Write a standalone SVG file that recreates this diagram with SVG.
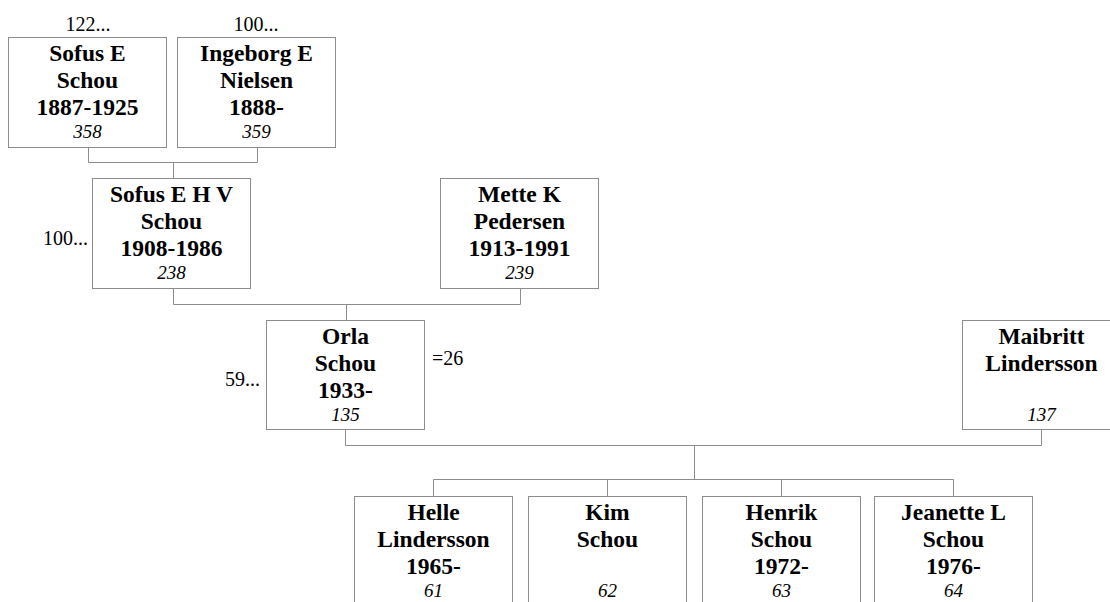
<svg xmlns="http://www.w3.org/2000/svg" width="1110" height="602" viewBox="0 0 1110 602">
<style>
.box{fill:#fff;stroke:#8c8c8c;stroke-width:1}
.ln{fill:none;stroke:#8c8c8c;stroke-width:1}
.n{font-family:"Liberation Serif","Times New Roman",serif;font-weight:bold;font-size:23.5px;text-anchor:middle;fill:#000}
.i{font-family:"Liberation Serif","Times New Roman",serif;font-style:italic;font-size:19px;text-anchor:middle;fill:#000}
.t{font-family:"Liberation Serif","Times New Roman",serif;font-size:20px;fill:#000}
</style>
<rect width="1110" height="602" fill="#fff"/>
<g id="connectors">
<path class="ln" d="M88.5 147V162.5H257.5V147M173.5 162.5V178"/>
<path class="ln" d="M173.5 288V304.5H520.5V288M346.5 304.5V320"/>
<path class="ln" d="M345.5 430V445.5H1041.5V430M694.5 445.5V479.5"/>
<path class="ln" d="M433.5 496V479.5H953.5V496M607.5 479.5V496M781.5 479.5V496"/>
</g>
<g id="n358">
<rect class="box" x="8.5" y="37.5" width="158" height="110"/>
<text class="t" x="88" y="31" text-anchor="middle">122...</text>
<text class="n" x="87.5" y="61">Sofus E</text>
<text class="n" x="87.5" y="88">Schou</text>
<text class="n" x="87.5" y="115">1887-1925</text>
<text class="i" x="87.5" y="138">358</text>
</g>
<g id="n359">
<rect class="box" x="177.5" y="37.5" width="158" height="110"/>
<text class="t" x="256" y="31" text-anchor="middle">100...</text>
<text class="n" x="256.5" y="61">Ingeborg E</text>
<text class="n" x="256.5" y="88">Nielsen</text>
<text class="n" x="256.5" y="115">1888-</text>
<text class="i" x="256.5" y="138">359</text>
</g>
<g id="n238">
<rect class="box" x="92.5" y="178.5" width="158" height="110"/>
<text class="t" x="88" y="245" text-anchor="end">100...</text>
<text class="n" x="171.5" y="202">Sofus E H V</text>
<text class="n" x="171.5" y="229">Schou</text>
<text class="n" x="171.5" y="256">1908-1986</text>
<text class="i" x="171.5" y="279">238</text>
</g>
<g id="n239">
<rect class="box" x="440.5" y="178.5" width="158" height="110"/>
<text class="n" x="519.5" y="202">Mette K</text>
<text class="n" x="519.5" y="229">Pedersen</text>
<text class="n" x="519.5" y="256">1913-1991</text>
<text class="i" x="519.5" y="279">239</text>
</g>
<g id="n135">
<rect class="box" x="266.5" y="320.5" width="158" height="109"/>
<text class="t" x="260" y="386" text-anchor="end">59...</text>
<text class="t" x="432" y="365">=26</text>
<text class="n" x="345.5" y="344">Orla</text>
<text class="n" x="345.5" y="371">Schou</text>
<text class="n" x="345.5" y="398">1933-</text>
<text class="i" x="345.5" y="421">135</text>
</g>
<g id="n137">
<rect class="box" x="962.5" y="320.5" width="158" height="109"/>
<text class="n" x="1041.5" y="344">Maibritt</text>
<text class="n" x="1041.5" y="371">Lindersson</text>
<text class="i" x="1041.5" y="421">137</text>
</g>
<g id="n61">
<rect class="box" x="354.5" y="496.5" width="158" height="110"/>
<text class="n" x="433.5" y="520">Helle</text>
<text class="n" x="433.5" y="547">Lindersson</text>
<text class="n" x="433.5" y="574">1965-</text>
<text class="i" x="433.5" y="597">61</text>
</g>
<g id="n62">
<rect class="box" x="528.5" y="496.5" width="158" height="110"/>
<text class="n" x="607.5" y="520">Kim</text>
<text class="n" x="607.5" y="547">Schou</text>
<text class="i" x="607.5" y="597">62</text>
</g>
<g id="n63">
<rect class="box" x="702.5" y="496.5" width="158" height="110"/>
<text class="n" x="781.5" y="520">Henrik</text>
<text class="n" x="781.5" y="547">Schou</text>
<text class="n" x="781.5" y="574">1972-</text>
<text class="i" x="781.5" y="597">63</text>
</g>
<g id="n64">
<rect class="box" x="874.5" y="496.5" width="158" height="110"/>
<text class="n" x="953.5" y="520">Jeanette L</text>
<text class="n" x="953.5" y="547">Schou</text>
<text class="n" x="953.5" y="574">1976-</text>
<text class="i" x="953.5" y="597">64</text>
</g>
</svg>
